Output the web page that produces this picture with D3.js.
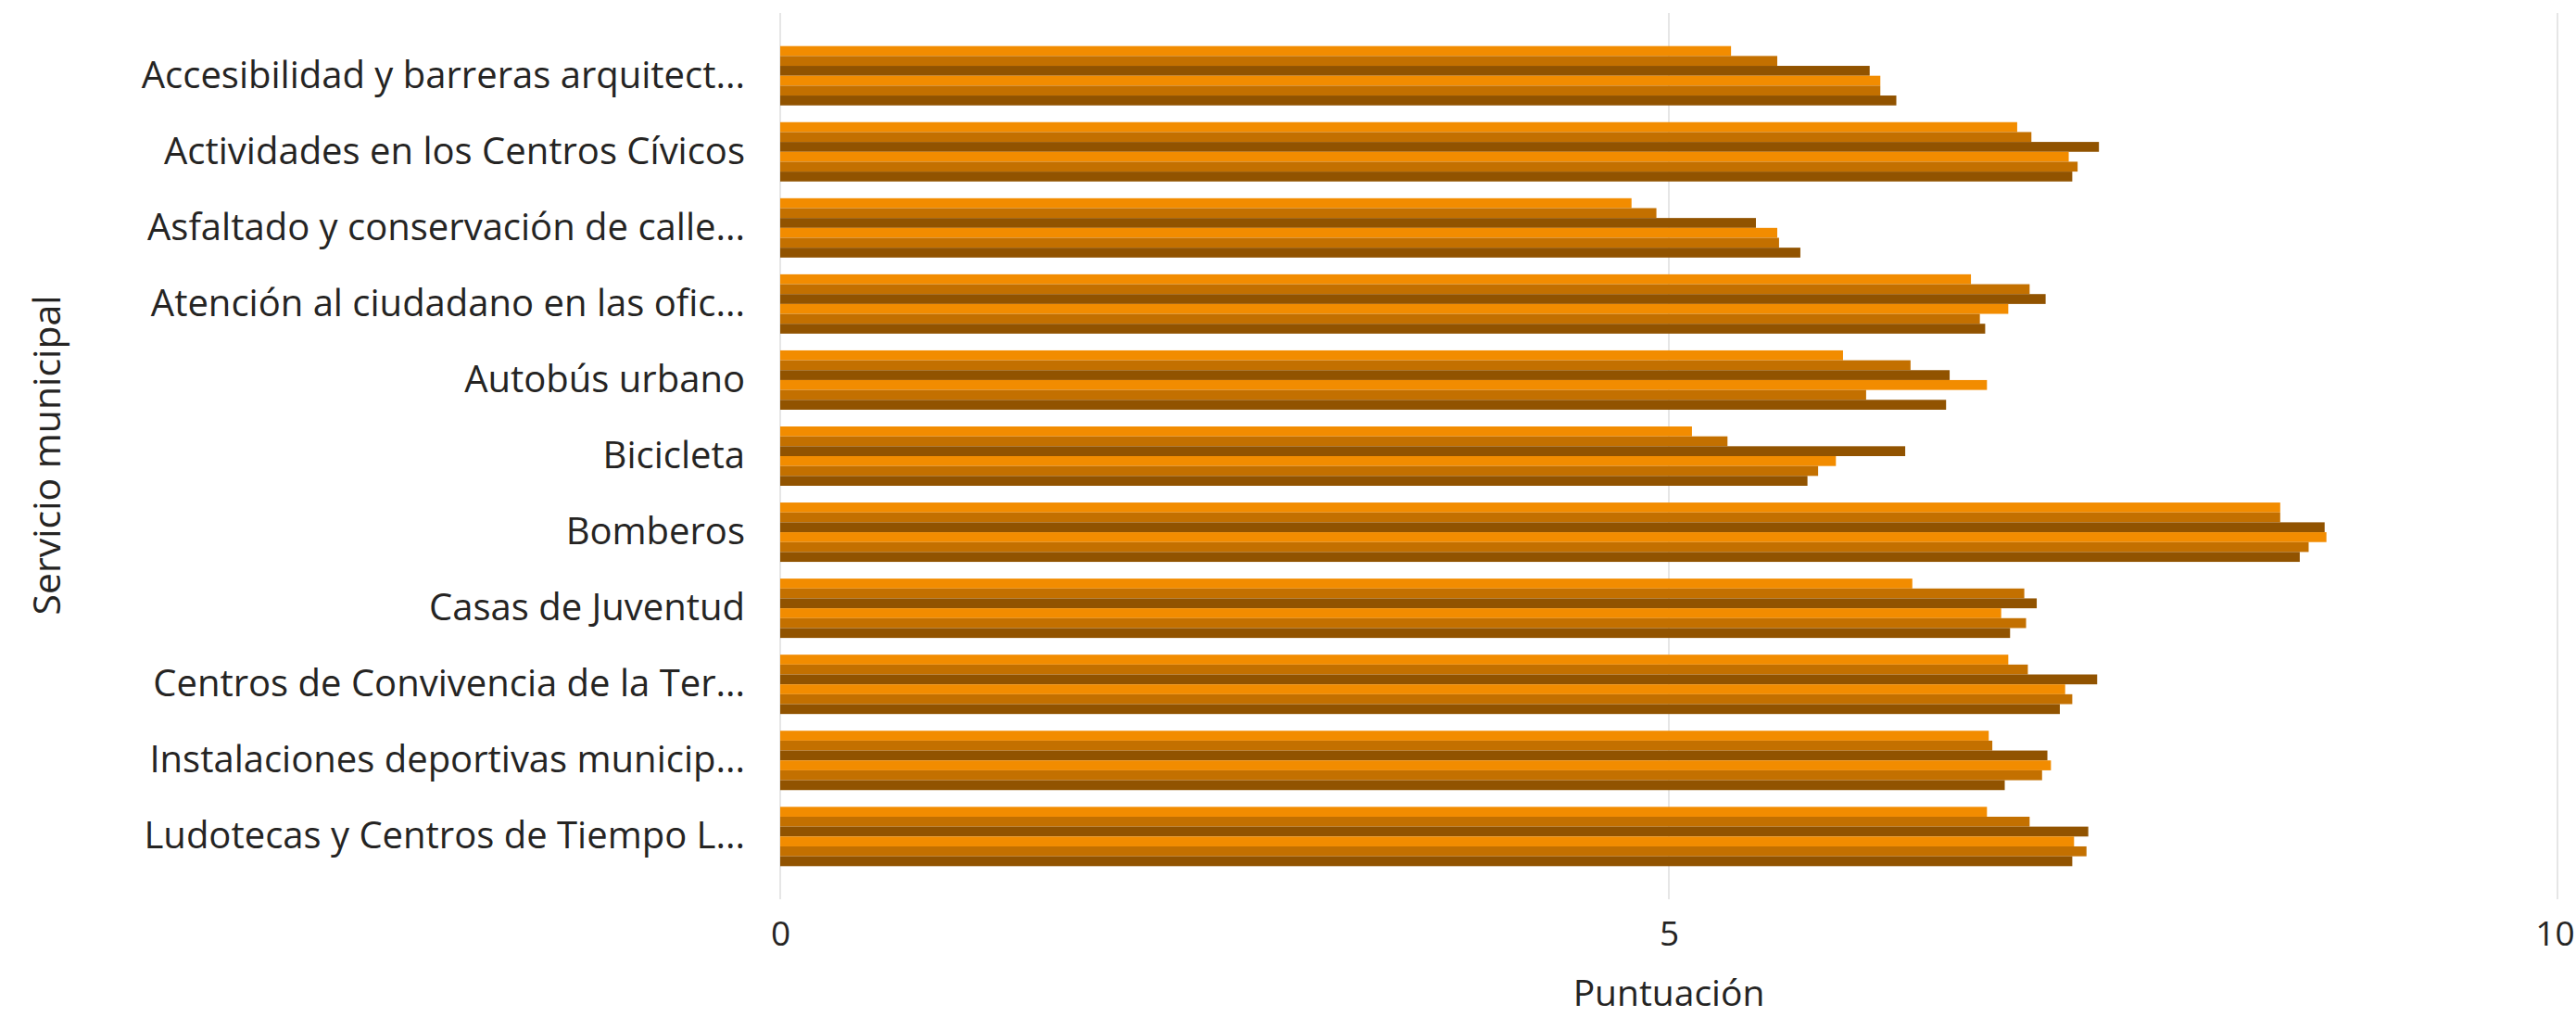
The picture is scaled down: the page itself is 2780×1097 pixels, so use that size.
<!DOCTYPE html>
<html>
<head>
<meta charset="utf-8">
<script src="https://cdn.jsdelivr.net/npm/d3@7"></script>
<style>
  html, body { margin: 0; padding: 0; background: #fff; }
  svg { display: block; }
</style>
</head>
<body>
<svg id="chart" width="2780" height="1097"></svg>
<script>
const categories = [
  "Accesibilidad y barreras arquitect...",
  "Actividades en los Centros Cívicos",
  "Asfaltado y conservación de calle...",
  "Atención al ciudadano en las ofic...",
  "Autobús urbano",
  "Bicicleta",
  "Bomberos",
  "Casas de Juventud",
  "Centros de Convivencia de la Ter...",
  "Instalaciones deportivas municip...",
  "Ludotecas y Centros de Tiempo L..."
];
const seriesNames = ["Serie 1", "Serie 2", "Serie 3", "Serie 4", "Serie 5", "Serie 6"];
const serie1 = [5.35, 6.96, 4.79, 6.70, 5.98, 5.13, 8.44, 6.37, 6.91, 6.80, 6.79];
const serie2 = [5.61, 7.04, 4.93, 7.03, 6.36, 5.33, 8.44, 7.00, 7.02, 6.82, 7.03];
const serie3 = [6.13, 7.42, 5.49, 7.12, 6.58, 6.33, 8.69, 7.07, 7.41, 7.13, 7.36];
const serie4 = [6.19, 7.25, 5.61, 6.91, 6.79, 5.94, 8.70, 6.87, 7.23, 7.15, 7.28];
const serie5 = [6.19, 7.30, 5.62, 6.75, 6.11, 5.84, 8.60, 7.01, 7.27, 7.10, 7.35];
const serie6 = [6.28, 7.27, 5.74, 6.78, 6.56, 5.78, 8.55, 6.92, 7.20, 6.89, 7.27];
const xTicks = [0, 5, 10];
const colors = ["#F28C00", "#C37000", "#915300", "#F28C00", "#C37000", "#915300"];

const allSeries = [serie1, serie2, serie3, serie4, serie5, serie6];
const rows = categories.map((c, i) => ({
  cat: c,
  values: seriesNames.map((s, j) => ({ key: s, value: allSeries[j][i] }))
}));

const svg = d3.select("#chart");
const FONT = "'Segoe UI', 'Open Sans', 'Noto Sans', sans-serif";
const TEXT = "#252423";

const x = d3.scaleLinear().domain([0, 10]).range([842, 2760]);
const y = d3.scaleBand().domain(categories).range([14, 970])
  .paddingInner(0.22).paddingOuter(0.435);
const y1 = d3.scaleBand().domain(seriesNames).range([0, y.bandwidth()]).padding(0);
const color = d3.scaleOrdinal().domain(seriesNames).range(colors);

// gridlines
svg.append("g").selectAll("line").data(xTicks).join("line")
  .attr("x1", d => x(d)).attr("x2", d => x(d))
  .attr("y1", 14).attr("y2", 970)
  .attr("stroke", "#E6E6E6").attr("stroke-width", 2);

// bars
svg.append("g").selectAll("g").data(rows).join("g")
  .attr("transform", d => `translate(0,${y(d.cat)})`)
  .selectAll("rect").data(d => d.values).join("rect")
  .attr("x", x(0))
  .attr("y", d => y1(d.key))
  .attr("width", d => x(d.value) - x(0))
  .attr("height", y1.bandwidth())
  .attr("fill", d => color(d.key));

// x axis
const xAxis = svg.append("g").attr("transform", "translate(0,970)")
  .call(d3.axisBottom(x).tickValues(xTicks).tickSize(0).tickPadding(24).tickFormat(d3.format("d")));
xAxis.select(".domain").remove();
xAxis.selectAll("text").attr("font-family", FONT).attr("font-size", 37).attr("fill", TEXT)
  .attr("dx", d => d === 10 ? -3 : 0);

// y axis
const yAxis = svg.append("g").attr("transform", "translate(842,0)")
  .call(d3.axisLeft(y).tickSize(0).tickPadding(38));
yAxis.select(".domain").remove();
yAxis.selectAll("text").attr("font-family", FONT).attr("font-size", 40).attr("fill", TEXT);

// axis titles
svg.append("text").attr("x", (x(0) + x(10)) / 2).attr("y", 1085)
  .attr("text-anchor", "middle").attr("font-family", FONT).attr("font-size", 39)
  .attr("fill", TEXT).text("Puntuación");
svg.append("text").attr("transform", "translate(65,491) rotate(-90)")
  .attr("text-anchor", "middle").attr("font-family", FONT).attr("font-size", 41)
  .attr("fill", TEXT).text("Servicio municipal");
</script>
</body>
</html>
